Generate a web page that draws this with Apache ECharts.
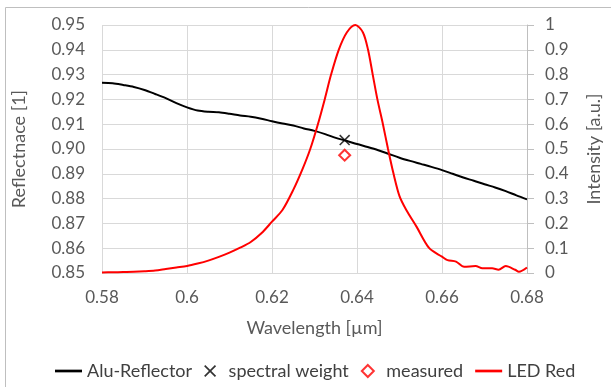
<!DOCTYPE html>
<html><head><meta charset="utf-8">
<script src="https://cdn.jsdelivr.net/npm/echarts@6/dist/echarts.min.js"></script>
<style>html,body{margin:0;padding:0;background:#fff}#c{width:611px;height:387px}</style>
</head><body><div id="c"></div>
<script>
// Alu-Reflector reflectance (left axis)
const aluWl = [0.580,0.5825,0.585,0.5875,0.590,0.5925,0.595,0.5975,0.600,0.6025,0.605,0.6075,0.610,0.6125,0.615,0.6175,0.620,0.6225,0.625,0.6275,0.630,0.6325,0.635,0.6375,0.640,0.6425,0.645,0.6475,0.650,0.6525,0.655,0.6575,0.660,0.6625,0.665,0.6675,0.670,0.6725,0.675,0.6775,0.680];
const aluR = [0.9267,0.9265,0.9258,0.9250,0.9238,0.9222,0.9205,0.9185,0.9168,0.9155,0.9150,0.9148,0.9142,0.9135,0.9130,0.9122,0.9112,0.9103,0.9095,0.9083,0.9073,0.9060,0.9045,0.9033,0.9020,0.9008,0.8995,0.8980,0.8965,0.8952,0.8940,0.8928,0.8915,0.8900,0.8885,0.8872,0.8858,0.8845,0.8830,0.8813,0.8797];
// LED Red intensity (right axis)
const ledWl = [0.580,0.5825,0.585,0.5875,0.590,0.5925,0.595,0.5975,0.600,0.6025,0.605,0.6075,0.610,0.6125,0.615,0.6175,0.620,0.6225,0.625,0.6272,0.629,0.6308,0.6324,0.6339,0.6357,0.6376,0.6396,0.6414,0.6426,0.6437,0.6448,0.6461,0.6473,0.6486,0.650,0.6516,0.654,0.657,0.660,0.6613,0.6633,0.6652,0.6679,0.6695,0.6718,0.6733,0.675,0.6772,0.6781,0.680];
const ledI = [0.002,0.003,0.004,0.005,0.007,0.010,0.016,0.022,0.028,0.038,0.050,0.065,0.082,0.102,0.125,0.160,0.207,0.255,0.335,0.42,0.50,0.60,0.70,0.80,0.90,0.97,1.0,0.97,0.90,0.80,0.70,0.60,0.50,0.40,0.31,0.254,0.187,0.10,0.066,0.052,0.046,0.025,0.028,0.019,0.019,0.013,0.028,0.013,0.005,0.022];
// single points
const spectralWeight = [0.6371, 0.9036];
const measured = [0.6371, 0.8975];

const xTicks = {min:0.58, max:0.68, interval:0.02};
const leftTicks = {min:0.85, max:0.95, interval:0.01};
const rightTicks = {min:0, max:1, interval:0.1};

const FONT = 'Lato';
const LBL = '#595959';
const GRID = '#d9d9d9';
const XPATH = 'path://M0,1 L1,0 L10,9 L9,10 Z M9,0 L10,1 L1,10 L0,9 Z';
const DPATH = 'path://M5,0 L10,5 L5,10 L0,5 Z';
const LPATH = 'path://M0,0 L10,0 L10,1 L0,1 Z';

const chart = echarts.init(document.getElementById('c'), null, {renderer:'canvas'});
chart.setOption({
  animation:false,
  backgroundColor:'#fff',
  graphic:[{type:'rect', shape:{x:5.5,y:7.5,width:620,height:400}, style:{fill:'none',stroke:'#bfbfbf',lineWidth:1}, z:-10}],
  grid:{left:102,right:79,top:25,bottom:114,containLabel:false},
  legend:{
    bottom:2, left:50, itemGap:12, itemWidth:27, itemHeight:12,
    textStyle:{fontFamily:FONT,fontSize:18,color:'#404040'},
    data:[
      {name:'Alu-Reflector', icon:LPATH, itemStyle:{color:'#000',borderWidth:0}},
      {name:'spectral weight', icon:XPATH, itemStyle:{color:'#000',borderWidth:0}},
      {name:'measured', icon:DPATH, itemStyle:{color:'#fff',borderColor:'#ff0000',borderWidth:2}},
      {name:'LED Red', icon:LPATH, itemStyle:{color:'#ff0000',borderWidth:0}}
    ]
  },
  xAxis:{type:'value', min:xTicks.min, max:xTicks.max, interval:xTicks.interval,
    name:'Wavelength [µm]', nameLocation:'middle', nameGap:46,
    nameTextStyle:{fontFamily:FONT,fontSize:18,color:LBL},
    axisLine:{show:false}, axisTick:{show:false},
    axisLabel:{fontFamily:FONT,fontSize:17,color:LBL,margin:16, formatter:v=>String(+v.toFixed(2))},
    splitLine:{show:true,lineStyle:{color:GRID,width:1}}},
  yAxis:[
    {type:'value', position:'left', min:leftTicks.min, max:leftTicks.max, interval:leftTicks.interval,
      name:'Reflectnace [1]', nameLocation:'middle', nameGap:74, nameRotate:90,
      nameTextStyle:{fontFamily:FONT,fontSize:18,color:LBL},
      axisLine:{show:false}, axisTick:{show:false},
      axisLabel:{fontFamily:FONT,fontSize:17,color:LBL,margin:17, formatter:v=>v.toFixed(2)},
      splitLine:{show:true,lineStyle:{color:GRID,width:1}}},
    {type:'value', position:'right', min:rightTicks.min, max:rightTicks.max, interval:rightTicks.interval,
      name:'Intensity [a.u.]', nameLocation:'middle', nameGap:58, nameRotate:90,
      nameTextStyle:{fontFamily:FONT,fontSize:18,color:LBL},
      axisLine:{show:true,lineStyle:{color:'#bfbfbf'}}, axisTick:{show:true,length:7,lineStyle:{color:'#bfbfbf'}},
      axisLabel:{fontFamily:FONT,fontSize:17,color:LBL,margin:18, formatter:v=>String(+v.toFixed(1))},
      splitLine:{show:false}}
  ],
  series:[
    {name:'Alu-Reflector', type:'line', yAxisIndex:0, symbol:'none', smooth:0.3,
      lineStyle:{color:'#000',width:2}, itemStyle:{color:'#000'},
      data:aluWl.map((w,i)=>[w,aluR[i]]), z:3},
    {name:'spectral weight', type:'scatter', yAxisIndex:0, symbol:XPATH, symbolSize:11,
      itemStyle:{color:'#000'}, data:[spectralWeight], z:5},
    {name:'measured', type:'scatter', yAxisIndex:0, symbol:DPATH, symbolSize:11,
      itemStyle:{color:'#fff',borderColor:'#ff0000',borderWidth:2}, data:[measured], z:5},
    {name:'LED Red', type:'line', yAxisIndex:1, symbol:'none', smooth:0.3,
      lineStyle:{color:'#ff0000',width:2}, itemStyle:{color:'#ff0000'},
      data:ledWl.map((w,i)=>[w,ledI[i]]), z:4}
  ]
});
</script></body></html>
